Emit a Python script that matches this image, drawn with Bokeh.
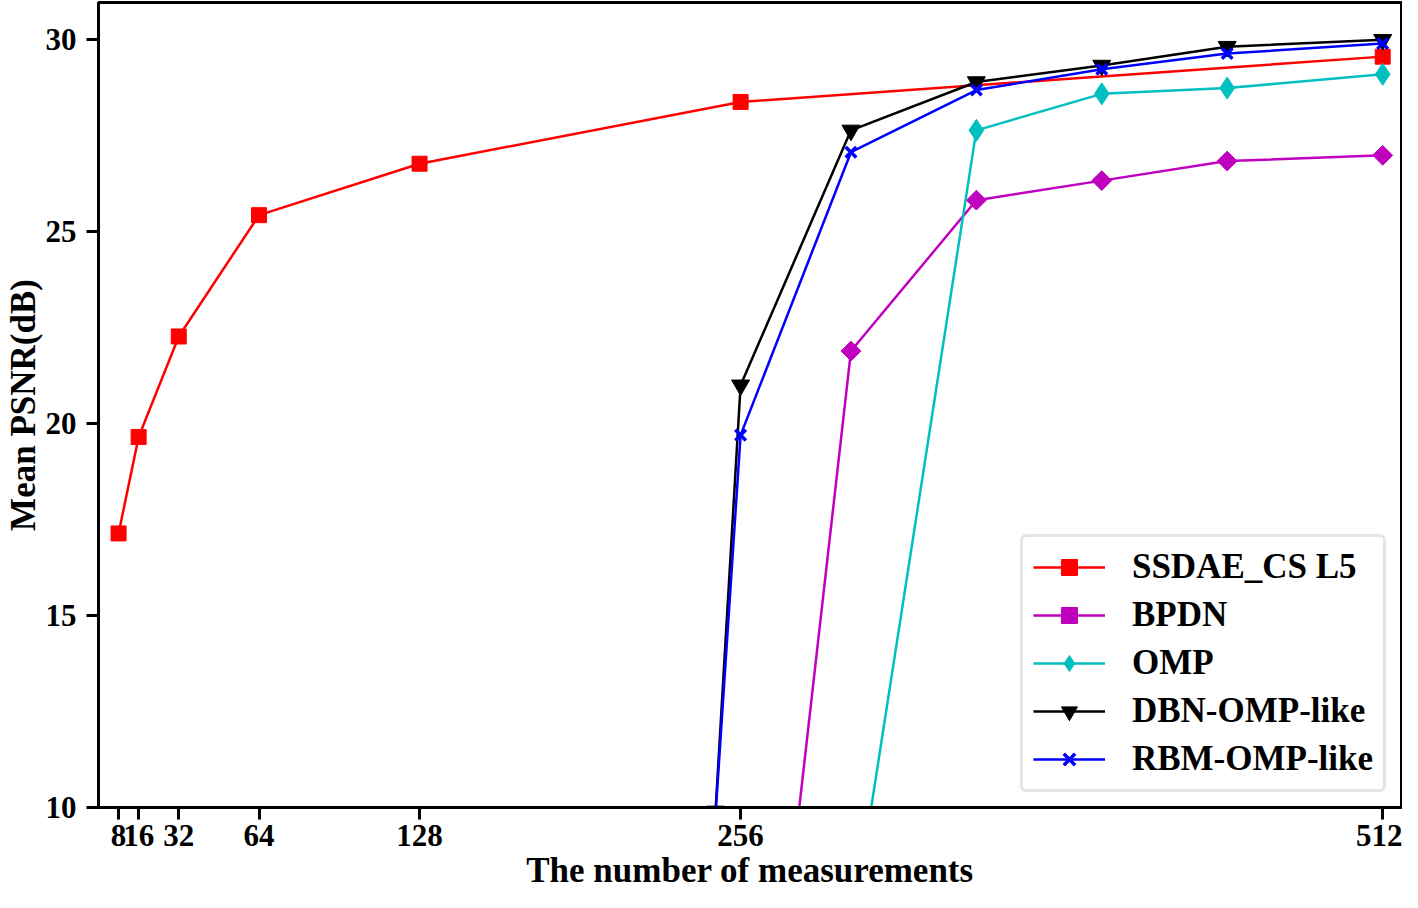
import numpy as np
from bokeh.plotting import figure
from bokeh.models import FixedTicker, Range1d, Legend
from bokeh.embed import file_html
from bokeh.resources import INLINE

# ---- data ----
x_ticks = [8, 16, 32, 64, 128, 256, 512]
y_ticks = [10, 15, 20, 25, 30]

ssdae_x = [8, 16, 32, 64, 128, 256, 512]
ssdae_y = [17.14, 19.65, 22.27, 25.43, 26.77, 28.38, 29.56]

bpdn_x = [256, 300, 350, 400, 450, 512]
bpdn_y = [-3.5, 21.89, 25.82, 26.33, 26.84, 26.99]

omp_x = [300, 350, 400, 450, 512]
omp_y = [6.6, 27.64, 28.59, 28.74, 29.10]

dbn_x = [246, 256, 300, 350, 400, 450, 512]
dbn_y = [9.9, 21.0, 27.64, 28.90, 29.33, 29.82, 30.0]

rbm_x = [246, 256, 300, 350, 400, 450, 512]
rbm_y = [9.8, 19.7, 27.07, 28.69, 29.23, 29.64, 29.90]

FONT = "Liberation Serif"

p = figure(width=1402, height=892, output_backend="svg", toolbar_location=None,
           x_range=Range1d(0, 519.5), y_range=Range1d(10, 30.97),
           min_border_left=91, min_border_right=1, min_border_top=2, min_border_bottom=10)

p.background_fill_color = "white"
p.border_fill_color = "white"
p.outline_line_color = "black"
p.outline_line_width = 3
p.grid.visible = False

for ax in (p.xaxis[0], p.yaxis[0]):
    ax.axis_line_width = 3
    ax.major_tick_line_width = 3
    ax.major_tick_out = 12
    ax.major_tick_in = 0
    ax.minor_tick_out = 0
    ax.minor_tick_in = 0
    ax.major_label_text_font = FONT
    ax.major_label_text_font_style = "bold"
    ax.major_label_text_font_size = "31px"
    ax.major_label_text_color = "black"
    ax.axis_label_text_font = FONT
    ax.axis_label_text_font_style = "bold"
    ax.axis_label_text_font_size = "35px"
    ax.axis_label_text_color = "black"

p.xaxis.ticker = FixedTicker(ticks=x_ticks)
p.yaxis.ticker = FixedTicker(ticks=y_ticks)
p.xaxis.major_label_standoff = 5
p.yaxis.major_label_standoff = 10
p.xaxis.axis_label = "The number of measurements"
p.yaxis.axis_label = "Mean PSNR(dB)"
p.xaxis.axis_label_standoff = 2
p.yaxis.axis_label_standoff = 0

items = []

def series(xs, ys, color, label, marker, size, angle=0.0, lw=None):
    r1 = p.line(xs, ys, line_color=color, line_width=2.5)
    kw = dict(marker=marker, size=size, fill_color=color, line_color=color, angle=angle)
    if lw is not None:
        kw["line_width"] = lw
    r2 = p.scatter(xs, ys, **kw)
    items.append((label, [r1, r2]))

series(ssdae_x, ssdae_y, "#ff0000", "SSDAE_CS L5", "square", 15)
series(bpdn_x, bpdn_y, "#bf00bf", "BPDN", "square", 14, angle=np.pi / 4)
series(omp_x, omp_y, "#00bfbf", "OMP", "diamond", 22)
series(dbn_x, dbn_y, "#000000", "DBN-OMP-like", "inverted_triangle", 18)
series(rbm_x, rbm_y, "#0000ff", "RBM-OMP-like", "x", 15, lw=3.5)

legend = Legend(items=items, location="bottom_right")
legend.margin = 15
legend.padding = 10
legend.spacing = 8
legend.glyph_height = 40
legend.glyph_width = 72
legend.label_standoff = 27
legend.label_text_font = FONT
legend.label_text_font_style = "bold"
legend.label_text_font_size = "35px"
legend.label_text_color = "black"
legend.border_line_color = "#cccccc"
legend.border_line_width = 3
legend.background_fill_color = "white"
legend.background_fill_alpha = 0.85
try:
    legend.border_radius = 6
except Exception:
    pass
p.add_layout(legend, "center")

open("out.html", "w").write(file_html(p, INLINE))
